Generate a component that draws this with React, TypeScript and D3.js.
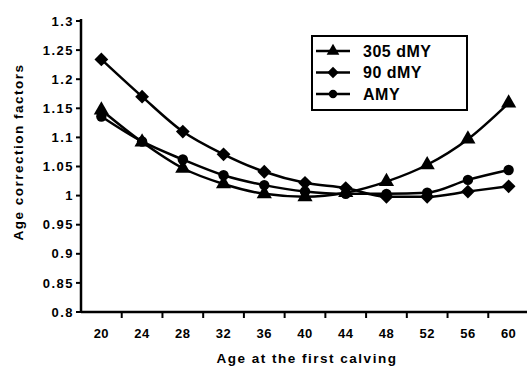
import React, { useEffect } from 'react'
import * as d3 from 'd3'

const ages = ['20', '24', '28', '32', '36', '40', '44', '48', '52', '56', '60']
const dmy305 = [1.147, 1.092, 1.047, 1.02, 1.003, 0.998, 1.005, 1.024, 1.053, 1.097, 1.159]
const dmy90 = [1.234, 1.17, 1.11, 1.071, 1.041, 1.022, 1.013, 0.998, 0.998, 1.007, 1.016]
const amy = [1.136, 1.093, 1.062, 1.035, 1.018, 1.007, 1.003, 1.003, 1.005, 1.027, 1.044]
const yTicks = [0.8, 0.85, 0.9, 0.95, 1, 1.05, 1.1, 1.15, 1.2, 1.25, 1.3]
const seriesNames = ['305 dMY', '90 dMY', 'AMY']

const width = 529
const height = 368
const left = 81
const right = 529
const top = 21
const bottom = 312

const font = 'Liberation Sans, Arial, sans-serif'

const App = () => {
  useEffect(() => {
    document.body.style.margin = '0'
  }, [])

  const x = d3.scaleBand().domain(ages).range([left, right])
  const y = d3.scaleLinear().domain([0.8, 1.3]).range([bottom, top])
  const cx = (d: string) => (x(d) as number) + x.bandwidth() / 2

  const symbolTypes = [d3.symbolTriangle, d3.symbolSquare, d3.symbolCircle]
  const markers = [100, 95, 85].map((s, k) => d3.symbol().type(symbolTypes[k]).size(s)())
  const legendMarkers = [70, 65, 55].map((s, k) => d3.symbol().type(symbolTypes[k]).size(s)())
  const rotations = [0, 45, 0]
  const series = [dmy305, dmy90, amy]

  const line = d3
    .line<number>()
    .x((d, i) => cx(ages[i]))
    .y((d) => y(d))
    .curve(d3.curveMonotoneX)

  // tick marks between categories
  const boundaries = ages.slice(1).map((a) => x(a) as number)

  return (
    <svg width={width} height={height} style={{ display: 'block', background: 'white' }} fontFamily={font}>
      {/* y axis */}
      <line x1={left} x2={left} y1={top - 2} y2={bottom + 1} stroke="black" strokeWidth={2.5} />
      {yTicks.map((t) => (
        <g key={t} transform={`translate(0, ${y(t)})`}>
          <line x1={left - 5} x2={left} stroke="black" strokeWidth={2} />
          <text x={left - 7} dy="0.36em" textAnchor="end" fontSize={13} fontWeight="bold" letterSpacing={1.5}>
            {t}
          </text>
        </g>
      ))}

      {/* x axis */}
      <line x1={left} x2={527} y1={bottom} y2={bottom} stroke="black" strokeWidth={2.5} />
      {boundaries.map((b, i) => (
        <line key={i} x1={b} x2={b} y1={bottom} y2={bottom + 6} stroke="black" strokeWidth={2} />
      ))}
      {ages.map((a) => (
        <text key={a} x={cx(a)} y={bottom + 26} textAnchor="middle" fontSize={13} fontWeight="bold" letterSpacing={0.5}>
          {a}
        </text>
      ))}

      <text x={307} y={363} textAnchor="middle" fontSize={13.5} fontWeight="bold" letterSpacing={1.5}>
        Age at the first calving
      </text>
      <text
        transform={`translate(23, 152) rotate(-90)`}
        textAnchor="middle"
        fontSize={13.5}
        fontWeight="bold"
        letterSpacing={1.5}
      >
        Age correction factors
      </text>

      {/* series */}
      {series.map((s, k) => (
        <g key={k}>
          <path d={line(s) as string} fill="none" stroke="black" strokeWidth={2.5} />
          {s.map((v, i) => (
            <path
              key={i}
              d={markers[k] as string}
              transform={`translate(${cx(ages[i])}, ${y(v)}) rotate(${rotations[k]})`}
              fill="black"
            />
          ))}
        </g>
      ))}

      {/* legend */}
      <g>
        <rect x={312} y={36} width={155} height={74} fill="white" stroke="black" strokeWidth={2} />
        {seriesNames.map((n, k) => {
          const ly = 51 + k * 21.5
          return (
            <g key={n}>
              <line x1={316} x2={350} y1={ly} y2={ly} stroke="black" strokeWidth={2.5} />
              <path
                d={legendMarkers[k] as string}
                transform={`translate(333, ${ly}) rotate(${rotations[k]})`}
                fill="black"
              />
              <text x={363} y={ly} dy="0.36em" fontSize={16} fontWeight="bold" letterSpacing={0.5}>
                {n}
              </text>
            </g>
          )
        })}
      </g>
    </svg>
  )
}

export default App
